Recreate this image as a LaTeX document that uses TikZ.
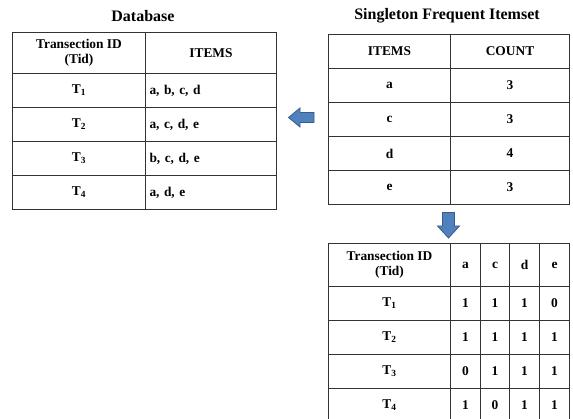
\documentclass[tikz,border=0pt]{standalone}
\usepackage{fontspec}
\setmainfont{Liberation Serif}
\begin{document}
\begin{tikzpicture}[x=1pt,y=-1pt,
  cell/.style={draw=black!80,line width=1pt,inner sep=0pt,anchor=north west,align=center,
    font=\fontsize{13.4}{15}\selectfont\bfseries},
  ttl/.style={font=\fontsize{16}{18}\selectfont\bfseries},
  blockarrow/.style={fill=arrowblue,draw=arrowedge,line width=0.8pt,line join=miter}]
\definecolor{arrowblue}{HTML}{4F81BD}
\definecolor{arrowedge}{HTML}{385D8A}
\useasboundingbox (0,0) rectangle (573,419);
\clip (0,0) rectangle (573,419);
% ---- Database table
\node[ttl] (t1title) at (143,16) {Database};
\node[cell,minimum width=133pt,minimum height=41pt] (d00) at (12,32) {Transection ID\\(Tid)};
\node[cell,minimum width=131pt,minimum height=41pt] (d01) at (145,32) {ITEMS};
\foreach \r/\y/\it in {1/73/{a, b, c, d},2/107/{a, c, d, e},3/141/{b, c, d, e},4/175/{a, d, e}}{
  \node[cell,minimum width=133pt,minimum height=34pt] (d\r0) at (12,\y) {T\textsubscript{\r}};
  \node[cell,minimum width=131pt,minimum height=34pt,text width=123pt,align=left] (d\r1) at (145,\y) {\it};
}
% ---- Singleton table
\node[ttl] (t2title) at (447,16) {Singleton Frequent Itemset};
\node[cell,minimum width=122pt,minimum height=34pt] (s00) at (328,34) {ITEMS};
\node[cell,minimum width=119pt,minimum height=34pt] (s01) at (450,34) {COUNT};
\foreach \r/\y/\a/\b in {1/68/a/3,2/102/c/3,3/136/d/4,4/170/e/3}{
  \node[cell,minimum width=122pt,minimum height=34pt] (s\r0) at (328,\y) {\a};
  \node[cell,minimum width=119pt,minimum height=34pt] (s\r1) at (450,\y) {\b};
}
% ---- Binary table
\node[cell,minimum width=122pt,minimum height=43pt] (b00) at (328,243) {Transection ID\\(Tid)};
\foreach \c/\x/\w/\h in {1/450/30/a,2/480/29/c,3/509/30/d,4/539/30/e}{
  \node[cell,minimum width=\w pt,minimum height=43pt] (b0\c) at (\x,243) {\h};
}
\foreach \r/\y/\va/\vb/\vc/\vd in {1/286/1/1/1/0,2/320/1/1/1/1,3/354/0/1/1/1,4/388/1/0/1/1}{
  \node[cell,minimum width=122pt,minimum height=34pt] (b\r0) at (328,\y) {T\textsubscript{\r}};
  \node[cell,minimum width=30pt,minimum height=34pt] (b\r1) at (450,\y) {\va};
  \node[cell,minimum width=29pt,minimum height=34pt] (b\r2) at (480,\y) {\vb};
  \node[cell,minimum width=30pt,minimum height=34pt] (b\r3) at (509,\y) {\vc};
  \node[cell,minimum width=30pt,minimum height=34pt] (b\r4) at (539,\y) {\vd};
}
% ---- block arrows
\draw[blockarrow] (288.5,117.5) -- (300,108) -- (300,112.5) -- (314,112.5) -- (314,122.5)
  -- (300,122.5) -- (300,127) -- cycle;
\draw[blockarrow] (448.5,238) -- (437.5,226) -- (442.5,226) -- (442.5,212.5) -- (454.5,212.5)
  -- (454.5,226) -- (459.5,226) -- cycle;
\end{tikzpicture}
\end{document}
